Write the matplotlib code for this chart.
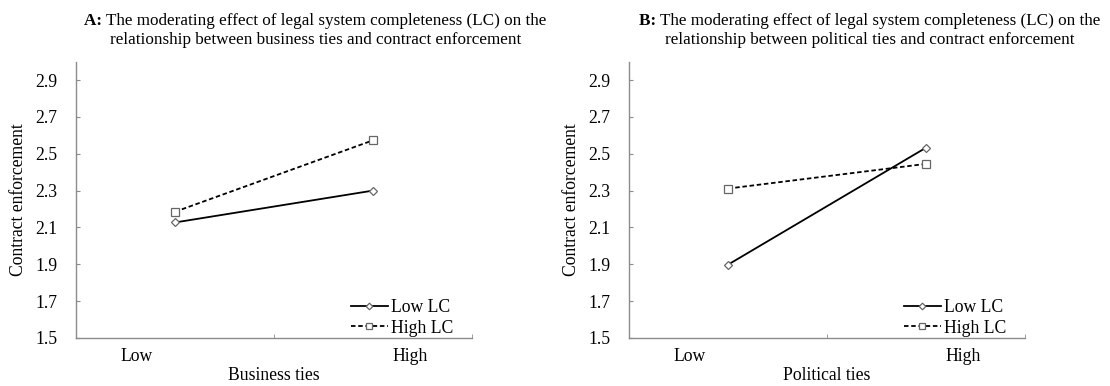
import matplotlib
matplotlib.use("Agg")
import matplotlib.pyplot as plt

plt.rcParams["font.family"] = ["Liberation Serif", "DejaVu Serif"]

# Data
levels = ["Low", "High"]
x_pos = [0, 1]

a_low_lc = [2.127, 2.300]
a_high_lc = [2.185, 2.573]
b_low_lc = [1.898, 2.533]
b_high_lc = [2.311, 2.445]

yticks = [1.5, 1.7, 1.9, 2.1, 2.3, 2.5, 2.7, 2.9]

panel_tags = ["A:", "B:"]
title_line1 = "The moderating effect of legal system completeness (LC) on the"
title_line2 = ["relationship between business ties and contract enforcement",
               "relationship between political ties and contract enforcement"]
xlabels = ["Business ties", "Political ties"]

fig = plt.figure(figsize=(11.1, 3.86), dpi=100)
ax_a = fig.add_axes([0.0685, 0.1244, 0.3568, 0.716])
ax_b = fig.add_axes([0.5667, 0.1244, 0.3568, 0.716])
renderer = fig.canvas.get_renderer()

axis_col = "#8c8c8c"
fs = 12.7
title_fs = 12.3


def add_title(ax, tag, line1, line2, xc):
    # bold panel tag followed by plain text, whole line centred on xc
    head = ax.text(0, 0, tag + " ", transform=ax.transAxes, fontsize=title_fs,
                   fontweight="bold", va="baseline", ha="left")
    rest = ax.text(0, 0, line1, transform=ax.transAxes, fontsize=title_fs,
                   va="baseline", ha="left")
    w_head = head.get_window_extent(renderer).width / ax.bbox.width
    w_rest = rest.get_window_extent(renderer).width / ax.bbox.width
    x0 = xc - (w_head + w_rest) / 2
    head.set_position((x0, 1.132))
    rest.set_position((x0 + w_head, 1.132))
    ax.text(xc, 1.064, line2, transform=ax.transAxes, fontsize=title_fs,
            va="baseline", ha="center")


panels = [
    (ax_a, a_low_lc, a_high_lc, 0),
    (ax_b, b_low_lc, b_high_lc, 1),
]
for ax, low, high, i in panels:
    ax.plot(x_pos, low, color="black", lw=1.3, marker="D", ms=4.2,
            mfc="white", mec="#666666", mew=0.9, label="Low LC")
    ax.plot(x_pos, high, color="black", lw=1.3, ls=(0, (2.5, 1.5)), marker="s",
            ms=5.5, mfc="white", mec="#666666", mew=0.9, label="High LC")

    ax.set_xlim(-0.5, 1.5)
    ax.set_ylim(1.5, 3.0)
    ax.set_yticks(yticks)
    ax.set_yticklabels([f"{v:.1f}" for v in yticks])
    ax.tick_params(axis="y", direction="in", length=3, pad=13.5, labelsize=fs,
                   color=axis_col)

    # category labels sit away from the band centres, as in the source
    ax.set_xticks([-0.195, 1.186])
    ax.set_xticklabels(levels)
    ax.tick_params(axis="x", length=0, pad=7.5, labelsize=fs)
    ax.set_xticks([0.5, 1.5], minor=True)
    ax.tick_params(axis="x", which="minor", direction="in", length=3,
                   color=axis_col)

    for s in ["top", "right"]:
        ax.spines[s].set_visible(False)
    for s in ["left", "bottom"]:
        ax.spines[s].set_color(axis_col)
        ax.spines[s].set_linewidth(1.0)

    ax.set_ylabel("Contract enforcement", fontsize=fs, labelpad=6)
    ax.set_xlabel(xlabels[i], fontsize=fs, labelpad=1)

    add_title(ax, panel_tags[i], title_line1, title_line2[i],
              0.604 if i == 0 else 0.608)

    leg = ax.legend(loc="lower left", bbox_to_anchor=(0.694, 0.005),
                    frameon=False, fontsize=fs, handlelength=2.1,
                    handletextpad=0.2, labelspacing=0.2, borderpad=0.0,
                    borderaxespad=0.0, markerscale=0.8)

fig.savefig("out.png", dpi=100)
